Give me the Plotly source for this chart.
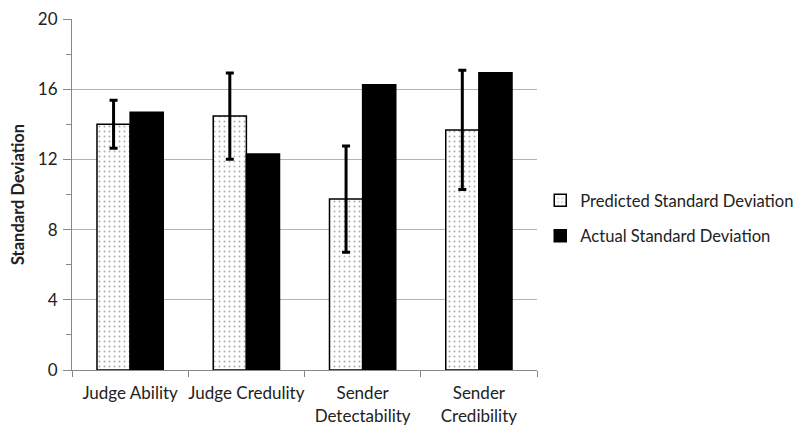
import plotly.graph_objects as go

categories = ["Judge Ability", "Judge Credulity", "Sender<br>Detectability", "Sender<br>Credibility"]
predicted = [14.0, 14.47, 9.74, 13.68]
predicted_err = [1.37, 2.46, 3.03, 3.40]
actual = [14.68, 12.31, 16.26, 16.94]
y_ticks = [0, 4, 8, 12, 16, 20]

fig = go.Figure()
fig.add_trace(go.Bar(
    x=categories, y=predicted, name="Predicted Standard Deviation",
    legendgroup="a",
    marker=dict(color="white", line=dict(color="black", width=1.5),
                pattern=dict(shape=".", size=5, solidity=0.12, fgcolor="#555555", bgcolor="white")),
    error_y=dict(type="data", array=predicted_err, visible=True, color="black", thickness=3, width=4),
))
fig.add_trace(go.Bar(
    x=categories, y=actual, name="Actual Standard Deviation",
    legendgroup="b",
    marker=dict(color="black", line=dict(color="black", width=1.5)),
))

fig.update_layout(
    width=809, height=426,
    margin=dict(l=64, r=280, t=11, b=64, autoexpand=False),
    paper_bgcolor="white", plot_bgcolor="white",
    barmode="group", bargap=0.43, bargroupgap=0,
    font=dict(family="Lato, Open Sans, sans-serif", size=16, color="#222222"),
    showlegend=True,
    legend=dict(x=1.007, y=0.533, xanchor="left", yanchor="top",
                traceorder="grouped", tracegroupgap=11,
                font=dict(size=16.6, color="#222222"), bgcolor="rgba(0,0,0,0)"),
)
fig.update_xaxes(
    showline=True, linecolor="#888888", linewidth=1,
    ticks="outside", tickson="boundaries", ticklen=6, tickcolor="#888888",
    showgrid=False, tickfont=dict(size=17), tickangle=0, automargin=False,
    ticklabeloverflow="allow", ticklabelstandoff=8,
)
fig.update_yaxes(
    range=[0, 20], tickvals=y_ticks,
    showline=True, linecolor="#888888", linewidth=1,
    ticks="outside", ticklen=8, tickcolor="#888888",
    showgrid=True, gridcolor="#b3b3b3", gridwidth=1,
    minor=dict(dtick=2, ticks="outside", ticklen=5, tickcolor="#888888", showgrid=False),
    zeroline=False, tickfont=dict(size=17), automargin=False,
    ticklabeloverflow="allow", ticklabelstandoff=2,
    title=dict(text="<b>Standard Deviation</b>", font=dict(size=16.5), standoff=10),
)

fig.write_html("out.html")
